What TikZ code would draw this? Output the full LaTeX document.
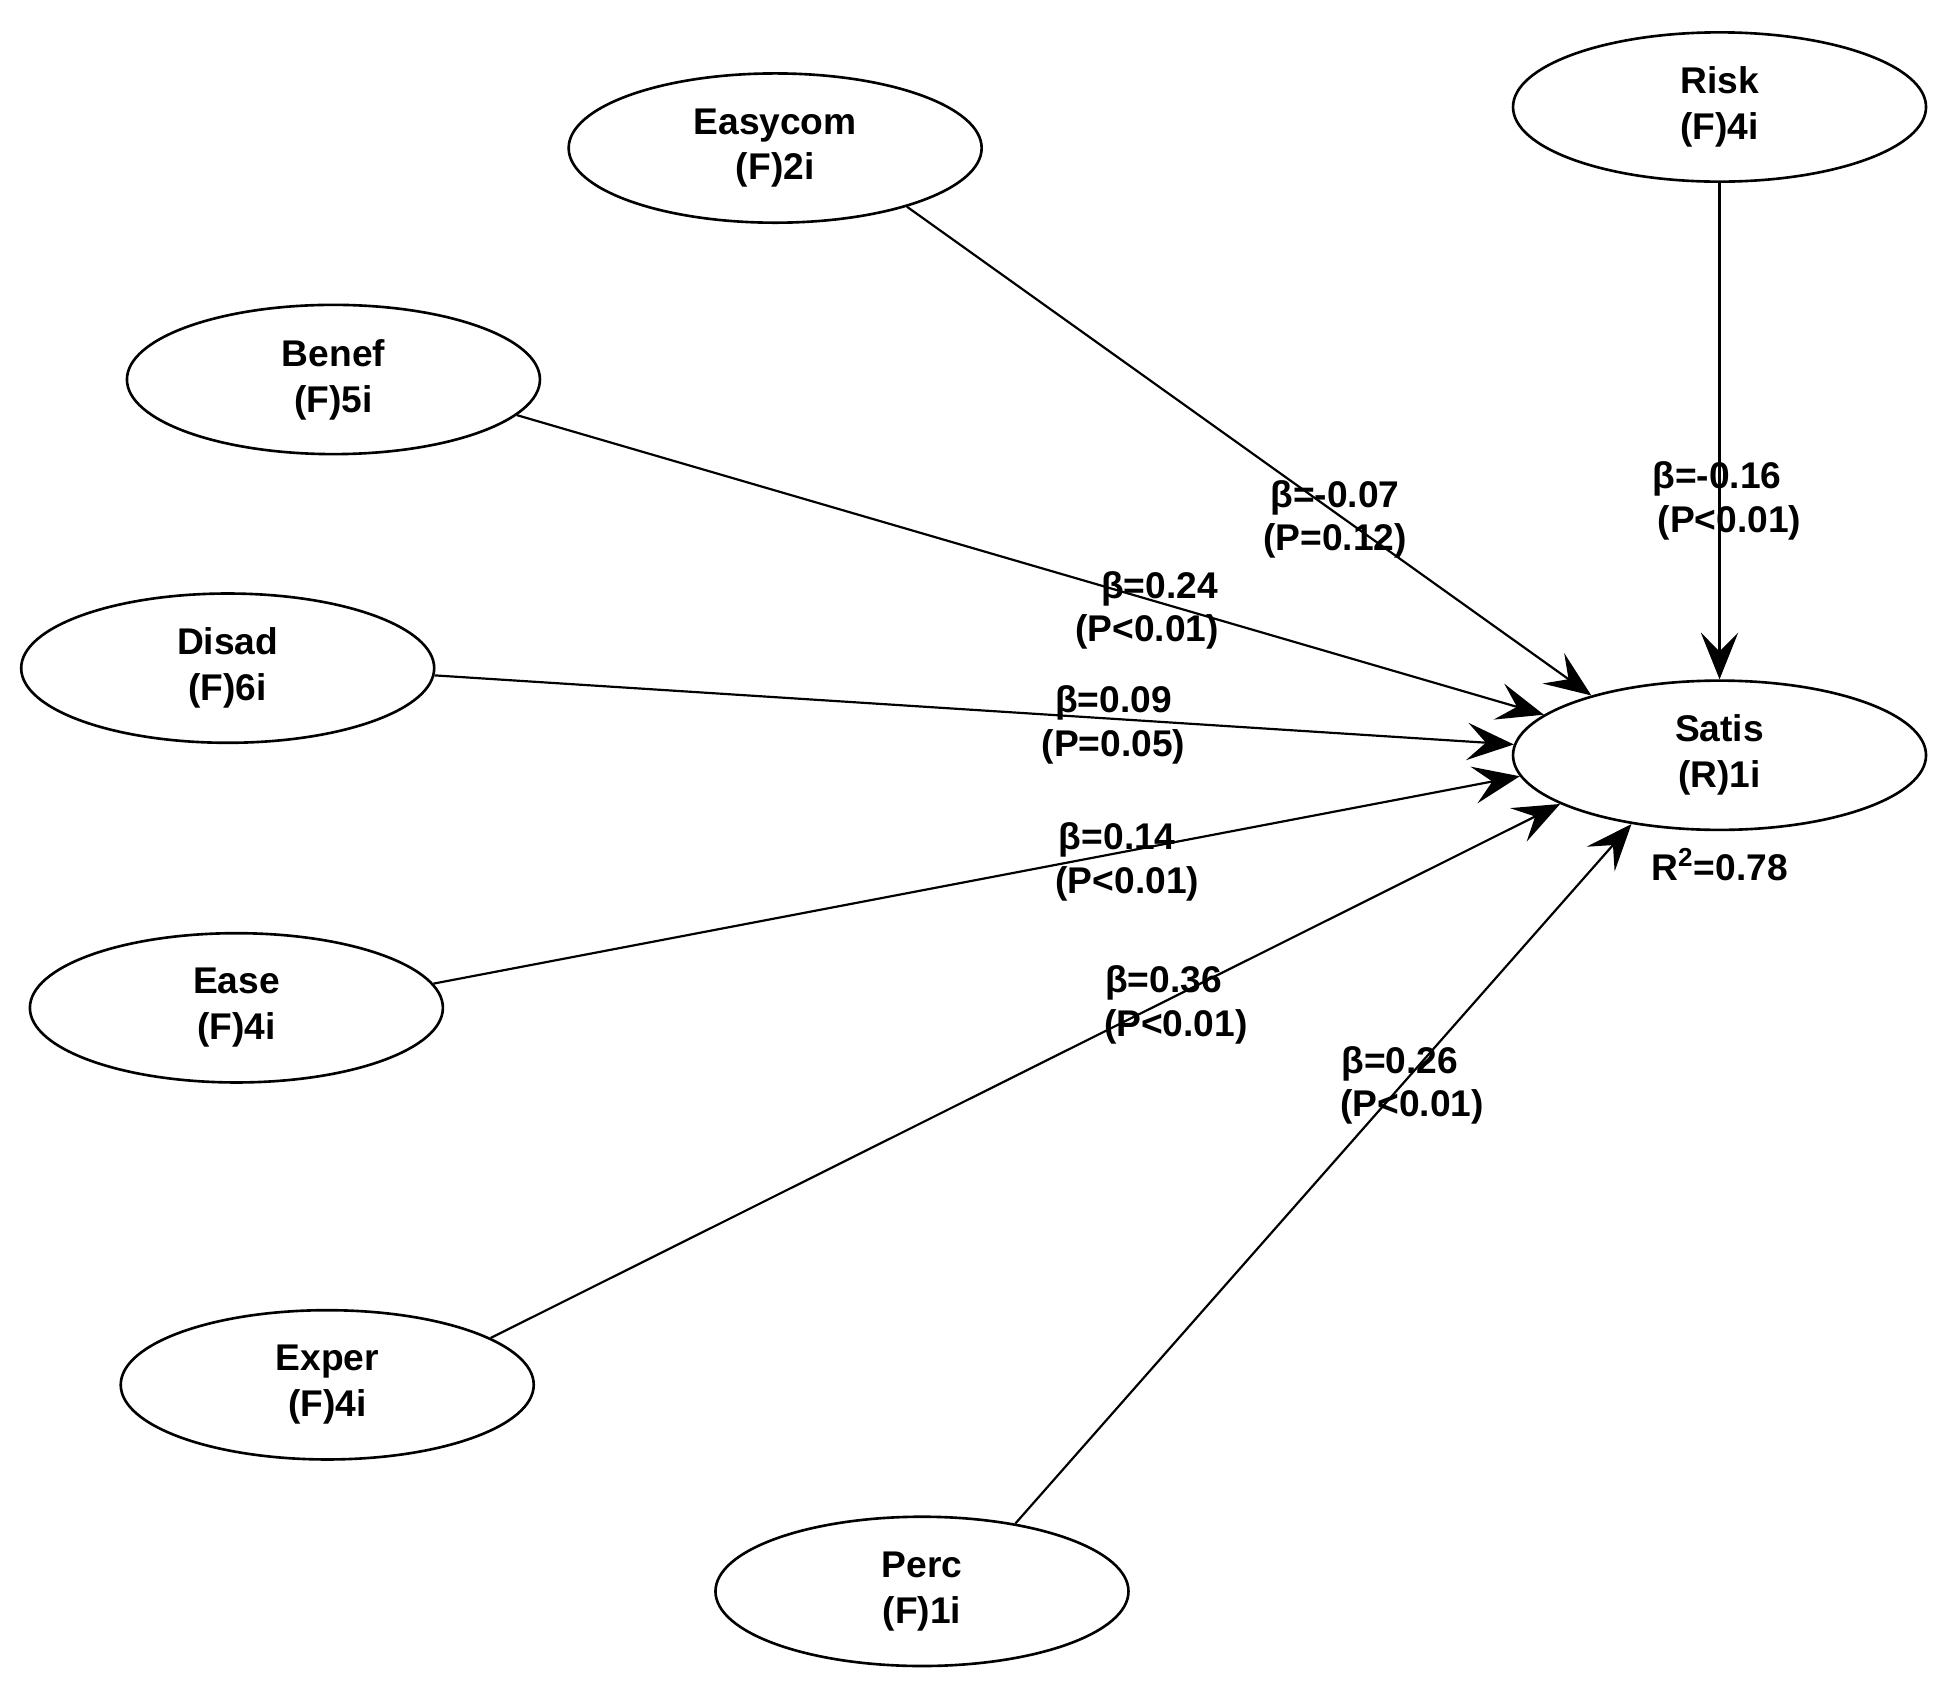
\documentclass[tikz,border=0pt]{standalone}
\usepackage{fontspec}
\setmainfont{Liberation Sans}
\usetikzlibrary{shapes.geometric,arrows.meta}
\begin{document}
\begin{tikzpicture}[x=0.02cm,y=-0.02cm,
  lat/.style={ellipse,draw,line width=1.2pt,minimum width=6.64cm,minimum height=2.4cm,inner sep=0pt,align=center,font=\bfseries\fontsize{17}{21}\selectfont},
  lbl/.style={font=\bfseries\fontsize{17}{21}\selectfont,inner sep=0pt},
  pth/.style={line width=1pt,-{Stealth[length=0.75cm,width=0.6cm,inset=0.3cm]}}]
\useasboundingbox (0,0) rectangle (1560,1352);
\node[lat] (easy) at (623,119) {Easycom\\(F)2i};
\node[lat] (risk) at (1382,86) {Risk\\(F)4i};
\node[lat] (benef) at (268,305) {Benef\\(F)5i};
\node[lat] (disad) at (183,537) {Disad\\(F)6i};
\node[lat] (satis) at (1382,607) {Satis\\(R)1i};
\node[lat] (ease) at (190,810) {Ease\\(F)4i};
\node[lat] (exper) at (263,1113) {Exper\\(F)4i};
\node[lat] (perc) at (741,1279) {Perc\\(F)1i};
\draw[pth] (easy.-24.6) -- (satis.155);
\draw[pth] (benef.-11.3) -- (satis.167.3);
\draw[pth] (disad.-2.7) -- (satis.177.6);
\draw[pth] (ease.7) -- (satis.186.5);
\draw[pth] (exper.16.4) -- (satis.197);
\draw[pth] (perc.36.5) -- (satis.218);
\draw[pth] (risk.south) -- (satis.north);
\node[lbl] (l1a) at (1073,400) {β=-0.07};
\node[lbl] (l1b) at (1073,435) {(P=0.12)};
\node[lbl] (l2a) at (932,473) {β=0.24};
\node[lbl] (l2b) at (922,508) {(P<0.01)};
\node[lbl] (l3a) at (895,565) {β=0.09};
\node[lbl] (l3b) at (895,600) {(P=0.05)};
\node[lbl] (l4a) at (898,675) {β=0.14};
\node[lbl] (l4b) at (906,710) {(P<0.01)};
\node[lbl] (l5a) at (935,790) {β=0.36};
\node[lbl] (l5b) at (945,825) {(P<0.01)};
\node[lbl] (l6a) at (1125,855) {β=0.26};
\node[lbl] (l6b) at (1135,890) {(P<0.01)};
\node[lbl] (l7a) at (1380,385) {β=-0.16};
\node[lbl] (l7b) at (1390,420) {(P<0.01)};
\node[lbl] (r2) at (1382,695) {R$^{\mathbf{2}}$=0.78};
\end{tikzpicture}
\end{document}
